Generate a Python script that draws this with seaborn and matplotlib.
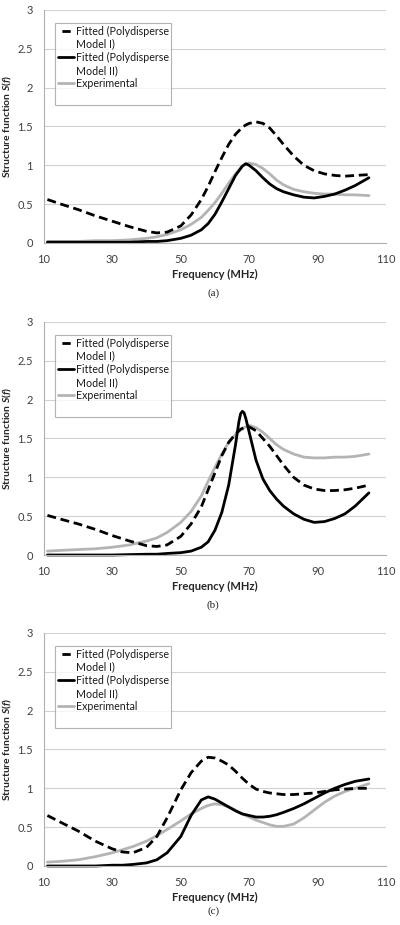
import matplotlib
matplotlib.use("Agg")
import matplotlib.pyplot as plt
from matplotlib.lines import Line2D
import seaborn as sns

# panel (a)
freq_a = [11, 15, 20, 25, 30, 35, 40, 43, 46, 50, 53, 56, 58, 60, 62, 64, 66, 68, 69, 70,
          72, 74, 76, 78, 80, 83, 86, 89, 92, 95, 98, 101, 105]
model1_a = [0.56, 0.50, 0.43, 0.35, 0.28, 0.21, 0.15, 0.13, 0.14, 0.22, 0.36, 0.56, 0.73,
            0.92, 1.10, 1.27, 1.40, 1.49, 1.52, 1.54, 1.56, 1.54, 1.48, 1.38, 1.27, 1.12,
            1.00, 0.93, 0.89, 0.87, 0.86, 0.87, 0.88]
model2_a = [0.01, 0.01, 0.01, 0.01, 0.01, 0.01, 0.02, 0.02, 0.03, 0.06, 0.10, 0.17, 0.25,
            0.37, 0.53, 0.70, 0.87, 0.99, 1.02, 1.00, 0.93, 0.84, 0.76, 0.70, 0.66, 0.62,
            0.59, 0.58, 0.60, 0.63, 0.68, 0.74, 0.84]
exp_a = [0.02, 0.02, 0.02, 0.03, 0.03, 0.04, 0.06, 0.08, 0.11, 0.17, 0.24, 0.33, 0.42,
         0.52, 0.64, 0.77, 0.89, 0.99, 1.02, 1.03, 1.01, 0.96, 0.89, 0.81, 0.75, 0.69,
         0.66, 0.64, 0.63, 0.63, 0.62, 0.62, 0.61]

# panel (b)
freq_b = [11, 15, 20, 25, 30, 35, 40, 43, 46, 50, 53, 56, 58, 60, 62, 64, 66, 67, 67.5,
          68, 68.5, 69, 70, 72, 74, 76, 78, 80, 83, 86, 89, 92, 95, 98, 101, 105]
model1_b = [0.51, 0.46, 0.40, 0.33, 0.25, 0.18, 0.12, 0.11, 0.13, 0.24, 0.40, 0.62, 0.84,
            1.06, 1.28, 1.45, 1.56, 1.60, 1.62, 1.63, 1.64, 1.64, 1.65, 1.60, 1.50, 1.40,
            1.28, 1.16, 1.00, 0.90, 0.85, 0.83, 0.83, 0.84, 0.86, 0.90]
model2_b = [0.0, 0.0, 0.0, 0.0, 0.0, 0.005, 0.01, 0.01, 0.02, 0.03, 0.05, 0.10, 0.17, 0.32,
            0.55, 0.90, 1.42, 1.72, 1.82, 1.85, 1.83, 1.76, 1.58, 1.22, 0.98, 0.83, 0.72,
            0.63, 0.53, 0.46, 0.42, 0.43, 0.47, 0.53, 0.63, 0.80]
exp_b = [0.05, 0.06, 0.07, 0.08, 0.10, 0.13, 0.18, 0.22, 0.29, 0.42, 0.56, 0.76, 0.95,
         1.13, 1.30, 1.45, 1.55, 1.59, 1.61, 1.62, 1.64, 1.65, 1.67, 1.64, 1.58, 1.50,
         1.42, 1.36, 1.30, 1.26, 1.25, 1.25, 1.26, 1.26, 1.27, 1.30]

# panel (c)
freq_c = [11, 15, 20, 25, 30, 33, 36, 40, 43, 46, 50, 53, 56, 58, 60, 62, 64, 66, 68, 70,
          72, 74, 76, 78, 80, 83, 86, 89, 92, 95, 98, 101, 105]
model1_c = [0.65, 0.56, 0.45, 0.32, 0.22, 0.18, 0.17, 0.24, 0.38, 0.62, 0.98, 1.20, 1.35,
            1.40, 1.39, 1.35, 1.30, 1.22, 1.13, 1.05, 0.99, 0.96, 0.94, 0.93, 0.92, 0.92,
            0.93, 0.94, 0.96, 0.98, 0.99, 1.00, 1.00]
model2_c = [0.0, 0.0, 0.0, 0.0, 0.01, 0.01, 0.02, 0.04, 0.08, 0.17, 0.38, 0.65, 0.85, 0.89,
            0.86, 0.81, 0.76, 0.71, 0.67, 0.65, 0.63, 0.63, 0.64, 0.66, 0.69, 0.74, 0.80,
            0.87, 0.94, 1.00, 1.05, 1.09, 1.12]
exp_c = [0.05, 0.06, 0.08, 0.12, 0.17, 0.21, 0.25, 0.32, 0.39, 0.47, 0.58, 0.67, 0.74,
         0.78, 0.80, 0.79, 0.76, 0.72, 0.67, 0.63, 0.59, 0.56, 0.53, 0.51, 0.51, 0.54,
         0.62, 0.72, 0.82, 0.90, 0.96, 1.00, 1.06]

legend_labels = ['Fitted (Polydisperse', 'Model I)', 'Fitted (Polydisperse',
                 'Model II)', 'Experimental', '']
xticks = [10, 30, 50, 70, 90, 110]
yticks = [0, 0.5, 1, 1.5, 2, 2.5, 3]
ytick_labels = ['0', '0.5', '1', '1.5', '2', '2.5', '3']
captions = ['(a)', '(b)', '(c)']

sns.set_style('white')
plt.rcParams['font.family'] = ['Lato', 'DejaVu Sans']
plt.rcParams['mathtext.fontset'] = 'custom'
plt.rcParams['mathtext.rm'] = 'Lato:bold'
plt.rcParams['mathtext.it'] = 'Lato:bold:italic'

GREY = '#b4b4b4'
AXCOL = '#b0b0b0'
DASH = (0, (3.2, 1.7))


def draw_panel(ax, freq, m1, m2, exp):
    """Draws the three curves and styles one panel like the Excel original."""
    sns.lineplot(x=freq, y=exp, ax=ax, color=GREY, lw=2.0, errorbar=None, clip_on=False)
    sns.lineplot(x=freq, y=m2, ax=ax, color='black', lw=2.0, errorbar=None, clip_on=False)
    sns.lineplot(x=freq, y=m1, ax=ax, color='black', lw=2.0, ls=DASH,
                 errorbar=None, clip_on=False)

    ax.set_xlim(10, 110)
    ax.set_ylim(0, 3)
    ax.set_xticks(xticks)
    ax.set_yticks(yticks)
    ax.set_yticklabels(ytick_labels)
    ax.yaxis.grid(True, color='#d2d2d2', lw=0.8)
    ax.xaxis.grid(False)
    for side in ['top', 'right']:
        ax.spines[side].set_visible(False)
    for side in ['left', 'bottom']:
        ax.spines[side].set_color(AXCOL)
        ax.spines[side].set_linewidth(0.8)
    ax.tick_params(axis='both', labelsize=8, labelcolor='#404040', color=AXCOL,
                   direction='out', width=0.8)
    ax.tick_params(axis='x', length=4, pad=4)
    ax.tick_params(axis='y', length=3, pad=5)

    ax.set_xlabel('Frequency (MHz)', fontsize=8, fontweight='bold')
    ax.set_ylabel(r'Structure function $S(f)$', fontsize=7.5, fontweight='bold')
    ax.xaxis.set_label_coords(0.5, -0.11)
    ax.yaxis.set_label_coords(-0.088, 0.5)

    blank = Line2D([], [], color='none')
    handles = [Line2D([], [], color='black', lw=2.0, ls=(4.6, (3, 3))), blank,
               Line2D([], [], color='black', lw=2.0), blank,
               Line2D([], [], color=GREY, lw=2.0), blank]
    leg = ax.legend(handles, legend_labels, loc='upper left',
                    bbox_to_anchor=(0.033, 0.945), borderaxespad=0, fontsize=7.7,
                    frameon=True, fancybox=False, handlelength=1.5,
                    handletextpad=0.15, labelspacing=0.2, borderpad=0.25)
    leg.get_frame().set_edgecolor('#a0a0a0')
    leg.get_frame().set_linewidth(0.8)
    for t in leg.get_texts():
        t.set_color('#1a1a1a')


fig = plt.figure(figsize=(4, 9.25), dpi=100)
panels = [(freq_a, model1_a, model2_a, exp_a),
          (freq_b, model1_b, model2_b, exp_b),
          (freq_c, model1_c, model2_c, exp_c)]
bottoms = [0.7373, 0.4000, 0.0638]
caption_y = [0.683, 0.346, 0.0145]

for data, bottom, cap, cy in zip(panels, bottoms, captions, caption_y):
    ax = fig.add_axes([0.11, bottom, 0.855, 0.2519])
    draw_panel(ax, *data)
    fig.text(0.533, cy, cap, ha='center', va='center', fontsize=8,
             family='Liberation Serif')

fig.savefig('out.png', dpi=100)
